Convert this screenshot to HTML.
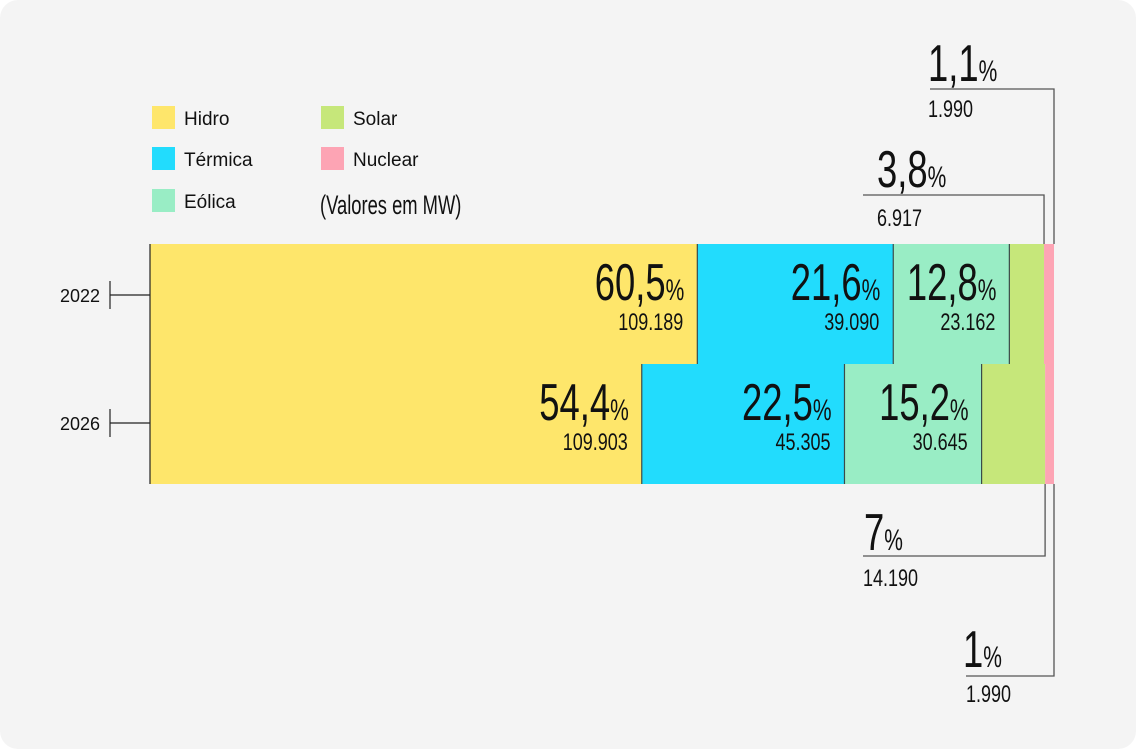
<!DOCTYPE html>
<html><head><meta charset="utf-8"><style>
html,body{margin:0;padding:0;background:#fff;}
#card{position:absolute;left:0;top:0;width:1136px;height:749px;background:#f4f4f4;border-radius:18px;overflow:hidden;}
svg{position:absolute;left:0;top:0;}
text{font-family:"Liberation Sans",sans-serif;fill:#111;}
</style></head><body>
<div id="card">
<svg id="chart" width="1136" height="749"></svg>
</div>
<script>
const years = ["2022","2026"];
const categories = ["Hidro","Térmica","Eólica","Solar","Nuclear"];
const colors = ["#fee66b","#22dcfd","#99edc5","#c6e77a","#fda4b4"];
const values2022 = [109189,39090,23162,6917,1990];
const values2026 = [109903,45305,30645,14190,1990];
const pct2022 = ["60,5","21,6","12,8","3,8","1,1"];
const pct2026 = ["54,4","22,5","15,2","7","1"];
const lbl2022 = ["109.189","39.090","23.162","6.917","1.990"];
const lbl2026 = ["109.903","45.305","30.645","14.190","1.990"];

const NS="http://www.w3.org/2000/svg";
const svg=document.getElementById('chart');
function mk(tag,attrs,parent){const e=document.createElementNS(NS,tag);for(const k in attrs)e.setAttribute(k,attrs[k]);(parent||svg).appendChild(e);return e;}
const X0=150, W=904, ROWY=[244,364], ROWH=120;
function xScale(v,total){return v/total*W;}

// legend
const legPos=[[152,106],[152,147],[152,189],[321,106],[321,147]];
categories.forEach((c,i)=>{
  const g=mk('g',{});
  
  
  mk('rect',{x:legPos[i][0],y:legPos[i][1],width:23,height:23,fill:colors[i]},g);
  const t=mk('text',{x:legPos[i][0]+32,y:legPos[i][1]+19,'font-size':19},g);
  t.textContent=c;
});
{const g=mk('g',{transform:'translate(320,214) scale(0.68,1)'});
 
 
 const t=mk('text',{x:0,y:0,'font-size':27},g);t.textContent='(Valores em MW)';}

function condText(x,y,str,size,sx,anchor,name,parent){
  const g=mk('g',{transform:`translate(${x},${y}) scale(${sx},1)`},parent);
  
  
  const t=mk('text',{x:0,y:0,'font-size':size,'text-anchor':anchor},g);
  return t;
}
function pctLabel(xRight,y,p,name,anchor){
  const t=condText(xRight,y,'',52,0.7,anchor||'end',name);
  const a=document.createElementNS(NS,'tspan');a.textContent=p;t.appendChild(a);
  const b=document.createElementNS(NS,'tspan');b.setAttribute('font-size','30');b.textContent='%';t.appendChild(b);
}

const rows=[[values2022,pct2022,lbl2022],[values2026,pct2026,lbl2026]];
rows.forEach((r,ri)=>{
  const vals=r[0],total=vals.reduce((a,b)=>a+b,0);
  let x=X0; const y=ROWY[ri];
  const ends=[];
  vals.forEach((v,i)=>{
    const w=xScale(v,total);
    const rect=mk('rect',{x:x,y:y,width:w,height:ROWH,fill:colors[i]});
    
    
    if(i>0&&i<4) mk('line',{x1:x,y1:y,x2:x,y2:y+ROWH,stroke:'#3a4a4a','stroke-width':1.2});
    x+=w; ends.push(x);
    if(i<3){
      pctLabel(x-13,y+56,r[1][i],'pct-label-'+years[ri]+'-'+i);
      const t=condText(x-14,y+86,'',24,0.75,'end','value-label-'+years[ri]+'-'+i);t.textContent=r[2][i];
    }
  });
  // year axis
  const cy=y+(ri===0?51:59);
  mk('line',{x1:110,y1:cy,x2:150,y2:cy,stroke:'#222','stroke-width':1.2});
  mk('line',{x1:110,y1:cy-14,x2:110,y2:cy+14,stroke:'#222','stroke-width':1.2});
  const yt=mk('text',{x:100,y:cy+7,'font-size':18,'text-anchor':'end'});
  
  
  yt.textContent=years[ri];
  // callouts
  const sx=ends[3], nx=ends[4];
  if(ri===0){
    mk('polyline',{points:`863,195 ${sx},195 ${sx},${y}`,fill:'none',stroke:'#555','stroke-width':1.3});
    pctLabel(877,187,r[1][3],'pct-label-2022-solar','start');
    condText(877,226,'',24,0.75,'start','value-label-2022-solar').textContent=r[2][3];
    mk('polyline',{points:`930,89 ${nx},89 ${nx},${y}`,fill:'none',stroke:'#555','stroke-width':1.3});
    pctLabel(928,81,r[1][4],'pct-label-2022-nuclear','start');
    condText(928,117,'',24,0.75,'start','value-label-2022-nuclear').textContent=r[2][4];
  } else {
    const yb=y+ROWH;
    mk('polyline',{points:`863,556 ${sx},556 ${sx},${yb}`,fill:'none',stroke:'#555','stroke-width':1.3});
    pctLabel(864,550,r[1][3],'pct-label-2026-solar','start');
    condText(863,586,'',24,0.75,'start','value-label-2026-solar').textContent=r[2][3];
    mk('polyline',{points:`966,676 ${nx},676 ${nx},${yb}`,fill:'none',stroke:'#555','stroke-width':1.3});
    pctLabel(963,667,r[1][4],'pct-label-2026-nuclear','start');
    condText(966,702,'',24,0.75,'start','value-label-2026-nuclear').textContent=r[2][4];
  }
});
mk('line',{x1:150,y1:244,x2:150,y2:484,stroke:'#222','stroke-width':1.2});
</script>
</body></html>
